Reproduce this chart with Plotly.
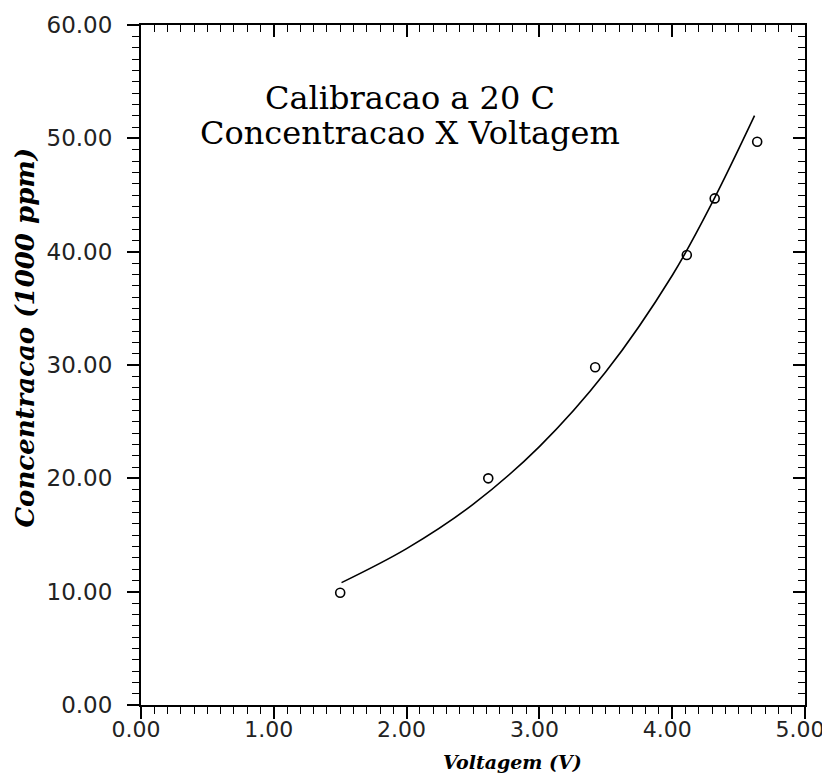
import plotly.graph_objects as go

# Measured calibration points
voltage = [1.50, 2.615, 3.42, 4.11, 4.32, 4.64]
concentration = [9.9, 20.0, 29.8, 39.7, 44.7, 49.7]

# Fitted curve, values
curve_voltage = [1.51, 2.0, 2.5, 3.0, 3.5, 4.0, 4.3, 4.62]
curve_conc = [10.8, 13.8, 17.7, 22.8, 29.4, 37.9, 44.3, 52.0]

title_lines = ["Calibracao a 20 C", "Concentracao X Voltagem"]
x_title = "Voltagem (V)"
y_title = "Concentracao (1000 ppm)"

fig = go.Figure()
fig.add_trace(go.Scatter(x=curve_voltage, y=curve_conc, mode="lines",
                         line=dict(color="black", width=1.6, shape="spline"),
                         hoverinfo="skip", showlegend=False))
fig.add_trace(go.Scatter(x=voltage, y=concentration, mode="markers",
                         marker=dict(symbol="circle-open", size=9, color="black",
                                     line=dict(width=1.6, color="black")),
                         showlegend=False))
# invisible trace to activate mirrored tick axes
fig.add_trace(go.Scatter(x=voltage, y=concentration, xaxis="x2", yaxis="y2",
                         mode="markers", marker=dict(opacity=0),
                         hoverinfo="skip", showlegend=False))

tickfont = dict(family="DejaVu Sans", size=23, color="#222")

fig.update_layout(
    width=822, height=766,
    margin=dict(l=133, r=25, t=17, b=69, autoexpand=False),
    paper_bgcolor="white", plot_bgcolor="white",
    xaxis=dict(range=[0, 5], dtick=1, tick0=0, tickformat=".2f",
               showgrid=False, zeroline=False, automargin=False,
               showline=True, linecolor="black", linewidth=2, mirror=True,
               ticks="outside", ticklen=12, tickwidth=1.5, tickcolor="black",
               ticklabelstandoff=-8, ticklabelshift=-5, ticklabeloverflow="allow",
               minor=dict(dtick=0.1, ticks="outside", ticklen=7, tickwidth=1.2,
                          tickcolor="black", showgrid=False),
               tickfont=dict(family="DejaVu Sans", size=22, color="#222")),
    yaxis=dict(range=[0, 60], dtick=10, tick0=0, tickformat=".2f",
               showgrid=False, zeroline=False, automargin=False,
               showline=True, linecolor="black", linewidth=2, mirror=True,
               ticks="outside", ticklen=12, tickwidth=1.5, tickcolor="black",
               ticklabelstandoff=10, ticklabeloverflow="allow",
               minor=dict(dtick=1, ticks="outside", ticklen=7, tickwidth=1.2,
                          tickcolor="black", showgrid=False),
               tickfont=tickfont),
    xaxis2=dict(range=[0, 5], overlaying="x", side="top", dtick=1, tick0=0,
                showticklabels=False, showgrid=False, zeroline=False, showline=False,
                automargin=False,
                ticks="inside", ticklen=12, tickwidth=1.5, tickcolor="black",
                minor=dict(dtick=0.1, ticks="inside", ticklen=7, tickwidth=1.2,
                           tickcolor="black", showgrid=False)),
    yaxis2=dict(range=[0, 60], overlaying="y", side="right", dtick=10, tick0=0,
                showticklabels=False, showgrid=False, zeroline=False, showline=False,
                automargin=False,
                ticks="inside", ticklen=12, tickwidth=1.5, tickcolor="black",
                minor=dict(dtick=1, ticks="inside", ticklen=7, tickwidth=1.2,
                           tickcolor="black", showgrid=False)),
    annotations=[
        dict(text=title_lines[0], xref="paper", yref="paper", x=0.405, y=0.893,
             xanchor="center", yanchor="middle", showarrow=False,
             font=dict(family="DejaVu Serif", size=32, color="black")),
        dict(text=title_lines[1], xref="paper", yref="paper", x=0.405, y=0.841,
             xanchor="center", yanchor="middle", showarrow=False,
             font=dict(family="DejaVu Serif", size=32, color="black")),
        dict(text=x_title, xref="paper", yref="paper", x=0.559, y=-0.084,
             xanchor="center", yanchor="middle", showarrow=False,
             font=dict(family="DejaVu Serif", size=19, color="black",
                       weight="bold", style="italic")),
        dict(text=y_title, xref="paper", yref="paper", x=-0.175, y=0.54,
             xanchor="center", yanchor="middle", showarrow=False, textangle=-90,
             font=dict(family="DejaVu Serif", size=26, color="black",
                       weight="bold", style="italic")),
    ],
)

fig.write_html("out.html")
